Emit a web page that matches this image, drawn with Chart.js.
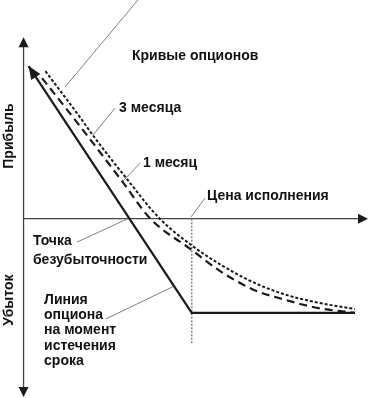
<!DOCTYPE html>
<html><head><meta charset="utf-8">
<script src="https://cdn.jsdelivr.net/npm/chart.js@4"></script>
<style>html,body{margin:0;padding:0;background:#fff;} #wrap{width:370px;height:398px;position:relative;}</style>
</head><body><div id="wrap"><canvas id="c"></canvas></div>
<script>
// Underlying price (x) and profit / loss (y), schematic units
const expiryPrice = [3, 100, 197];
const expiryPL = [60, -37, -37];
const oneMonthPrice = [11, 34, 59, 75, 100, 116, 136, 154, 175, 197];
const oneMonthPL = [55.3, 36, 14.4, 0.3, -12.3, -20.2, -27.7, -31.6, -35.1, -37];
const threeMonthPrice = [13, 34, 41, 61, 81, 100, 117, 135, 154, 175, 197];
const threeMonthPL = [58, 39.5, 33, 16, 0, -10.5, -18, -24.5, -29.5, -33, -35.5];
const strikePrice = 100;
const strikeLineLow = -49;
// axis extents
const axisPrice = [0, 204.8];
const axisPL = [-70.1, 71.4];
// leader lines (from label to curve)
const leaderFromX = [68, 54.4, 69.3, 107.9, 31.8, 49];
const leaderFromY = [86, 43.5, 21.9, 8.1, -9.2, -39.4];
const leaderToX = [24.7, 41.3, 58.6, 99.6, 62, 89.5];
const leaderToY = [51.8, 32.9, 14.4, 0.7, 0, -26.5];

const pts = (xs, ys) => xs.map((x, i) => ({x, y: ys[i]}));

const datasets = [
  {data: pts(expiryPrice, expiryPL), borderColor: '#1a1a1a', borderWidth: 2.2, tension: 0},
  {data: pts(oneMonthPrice, oneMonthPL), borderColor: '#1a1a1a', borderWidth: 2.2, borderDash: [8, 5], cubicInterpolationMode: 'monotone'},
  {data: pts(threeMonthPrice, threeMonthPL), borderColor: '#1a1a1a', borderWidth: 2, borderDash: [3, 2], cubicInterpolationMode: 'monotone'},
  {data: [{x: strikePrice, y: 0}, {x: strikePrice, y: strikeLineLow}], borderColor: '#8a8a8a', borderWidth: 1.6, borderDash: [2, 1.5]}
];
leaderFromX.forEach((x, i) => {
  datasets.push({data: [{x, y: leaderFromY[i]}, {x: leaderToX[i], y: leaderToY[i]}], borderColor: '#808080', borderWidth: 1});
});
datasets.forEach(d => { d.pointRadius = 0; d.fill = false; d.clip = false; });

const labels = [
  {t: 'Кривые опционов', x: 64.5, y: 64},
  {t: '3 месяца', x: 56.8, y: 43.5},
  {t: '1 месяц', x: 71, y: 21.9},
  {t: 'Цена исполнения', x: 109.1, y: 8.9},
  {t: 'Точка', x: 5.6, y: -8.8},
  {t: 'безубыточности', x: 5.6, y: -16.3},
  {t: 'Линия', x: 12.2, y: -32},
  {t: 'опциона', x: 12.2, y: -38},
  {t: 'на момент', x: 12.2, y: -44},
  {t: 'истечения', x: 12.2, y: -50},
  {t: 'срока', x: 12.2, y: -56}
];

const deco = {
  id: 'deco',
  beforeDatasetsDraw(chart) {
    const {ctx, scales: {x, y}} = chart;
    const x0 = x.getPixelForValue(0), y0 = y.getPixelForValue(0);
    const top = y.getPixelForValue(axisPL[1]), bot = y.getPixelForValue(axisPL[0]);
    const right = x.getPixelForValue(axisPrice[1]);
    ctx.save();
    ctx.strokeStyle = '#444'; ctx.fillStyle = '#1a1a1a'; ctx.lineWidth = 1.3;
    ctx.beginPath();
    ctx.moveTo(x0, top + 8); ctx.lineTo(x0, bot - 8);
    ctx.moveTo(x0, y0); ctx.lineTo(right - 8, y0);
    ctx.stroke();
    ctx.beginPath(); ctx.moveTo(x0, top); ctx.lineTo(x0 - 5, top + 10); ctx.lineTo(x0 + 5, top + 10); ctx.closePath(); ctx.fill();
    ctx.beginPath(); ctx.moveTo(x0, bot); ctx.lineTo(x0 - 5, bot - 10); ctx.lineTo(x0 + 5, bot - 10); ctx.closePath(); ctx.fill();
    ctx.beginPath(); ctx.moveTo(right, y0); ctx.lineTo(right - 10, y0 - 5); ctx.lineTo(right - 10, y0 + 5); ctx.closePath(); ctx.fill();
    ctx.restore();
  },
  afterDatasetsDraw(chart) {
    const {ctx, scales: {x, y}} = chart;
    ctx.save();
    // arrowhead on expiry line
    const p1x = x.getPixelForValue(expiryPrice[0]), p1y = y.getPixelForValue(expiryPL[0]);
    const p2x = x.getPixelForValue(expiryPrice[1]), p2y = y.getPixelForValue(expiryPL[1]);
    const ang = Math.atan2(p1y - p2y, p1x - p2x);
    const L = 13, W = 5.5;
    ctx.fillStyle = '#1a1a1a';
    ctx.beginPath();
    ctx.moveTo(p1x, p1y);
    ctx.lineTo(p1x - L * Math.cos(ang) + W * Math.sin(ang), p1y - L * Math.sin(ang) - W * Math.cos(ang));
    ctx.lineTo(p1x - L * Math.cos(ang) - W * Math.sin(ang), p1y - L * Math.sin(ang) + W * Math.cos(ang));
    ctx.closePath(); ctx.fill();
    // texts
    ctx.fillStyle = '#111';
    ctx.font = 'bold 14px "Liberation Sans", Arial, sans-serif';
    ctx.textBaseline = 'middle'; ctx.textAlign = 'left';
    labels.forEach(l => ctx.fillText(l.t, x.getPixelForValue(l.x), y.getPixelForValue(l.y)));
    // axis captions
    ctx.textAlign = 'center';
    ctx.font = 'bold 14px "Liberation Sans", Arial, sans-serif';
    [['Прибыль', 32.5], ['Убыток', -32]].forEach(([t, v]) => {
      ctx.save();
      ctx.translate(x.getPixelForValue(-8.8), y.getPixelForValue(v));
      ctx.rotate(-Math.PI / 2);
      ctx.fillText(t, 0, 0);
      ctx.restore();
    });
    ctx.restore();
  }
};

new Chart(document.getElementById('c'), {
  type: 'line',
  data: {datasets},
  options: {
    responsive: true, maintainAspectRatio: false, animation: false, events: [],
    layout: {padding: 0},
    plugins: {legend: {display: false}, tooltip: {enabled: false}, title: {display: false}},
    scales: {
      x: {type: 'linear', display: false, min: -14, max: 206},
      y: {type: 'linear', display: false, min: -70.5, max: 86}
    }
  },
  plugins: [deco]
});
</script></body></html>
